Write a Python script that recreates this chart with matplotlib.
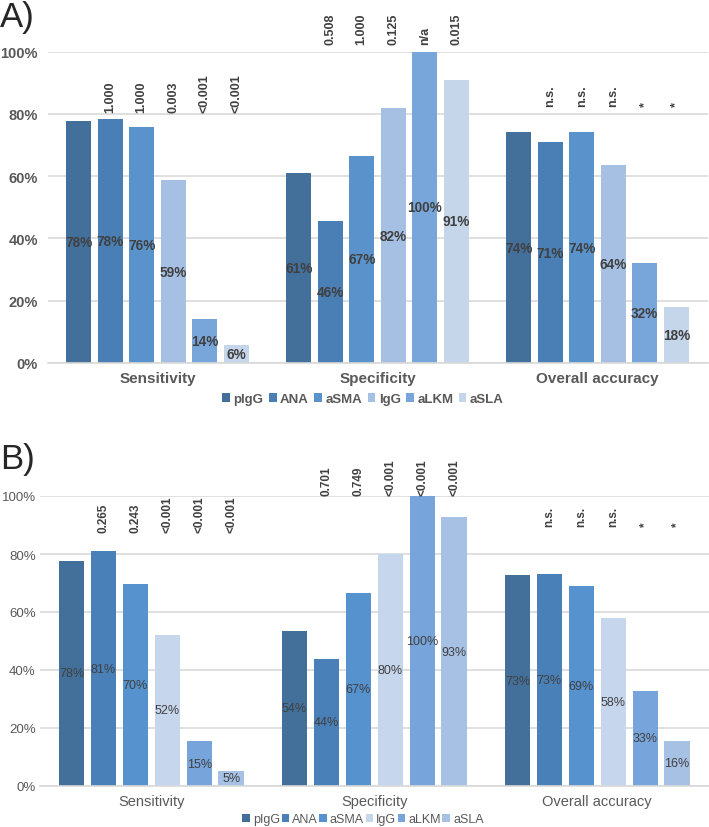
import matplotlib
matplotlib.use('Agg')
import matplotlib.pyplot as plt
import numpy as np

groups = ['Sensitivity', 'Specificity', 'Overall accuracy']
markers = ['pIgG', 'ANA', 'aSMA', 'IgG', 'aLKM', 'aSLA']

# panel A values (%), per group, marker order as above
a_sens = [77.8, 78.2, 75.8, 58.7, 14.0, 5.9]
a_spec = [60.9, 45.6, 66.6, 81.8, 100.0, 90.9]
a_acc = [74.0, 70.8, 74.0, 63.7, 32.1, 17.9]
a_p_sens = ['', '1.000', '1.000', '0.003', '<0.001', '<0.001']
a_p_spec = ['', '0.508', '1.000', '0.125', 'n/a', '0.015']
a_p_acc = ['', 'n.s.', 'n.s.', 'n.s.', '*', '*']

# panel B values (%)
b_sens = [77.7, 81.0, 69.6, 52.1, 15.4, 5.3]
b_spec = [53.6, 43.8, 66.6, 80.0, 100.0, 92.7]
b_acc = [72.6, 73.2, 68.9, 57.8, 32.9, 15.6]
b_p_sens = ['', '0.265', '0.243', '<0.001', '<0.001', '<0.001']
b_p_spec = ['', '0.701', '0.749', '<0.001', '<0.001', '<0.001']
b_p_acc = ['', 'n.s.', 'n.s.', 'n.s.', '*', '*']

colors_a = ['#43709B', '#4A7FB6', '#5A93CC', '#A6C0E3', '#79A6DA', '#C5D5EA']
colors_b = ['#43709B', '#4A80B8', '#5592CE', '#C6D6EC', '#77A5DB', '#A7C1E5']

fig = plt.figure(figsize=(7.09, 8.28), dpi=100)
axA = fig.add_axes([47.5 / 709, 1 - 364 / 828, 660 / 709, 311.5 / 828])
axB = fig.add_axes([39.75 / 709, 1 - 787 / 828, 669 / 709, 290 / 828])

grid_c = '#D9D9D9'
txt_c = '#595959'
lab_c = '#404040'
font = ['Liberation Sans', 'DejaVu Sans']


def draw_panel(ax, vals, pvals, p_heights, colors, bold, tick_fs, cat_fs, lab_fs, p_fs,
               leg_fs, leg_y, colsp, pad):
    wt = 'bold' if bold else 'normal'
    step = 0.1432
    width = 0.113
    x = np.arange(len(groups))
    for i, m in enumerate(markers):
        h = [vals[g][i] for g in range(len(groups))]
        pos = x + (i - 2.5) * step
        ax.bar(pos, h, width=width, color=colors[i], label=m, zorder=2)
        for g in range(len(groups)):
            ax.text(pos[g], h[g] / 2, '%.0f%%' % h[g], ha='center', va='center',
                    fontsize=lab_fs, color=lab_c, fontweight=wt, family=font, zorder=3)
            p = pvals[g][i]
            if p:
                ax.text(pos[g], p_heights[g], p, rotation=90, ha='center', va='bottom',
                        fontsize=p_fs, color=lab_c, fontweight='bold', family=font, clip_on=False)
    ax.set_xlim(-0.5, 2.5)
    ax.set_ylim(0, 100)
    ax.set_yticks([0, 20, 40, 60, 80, 100])
    ax.set_yticklabels(['0%', '20%', '40%', '60%', '80%', '100%'], fontsize=tick_fs,
                       color=txt_c, fontweight=wt, family=font)
    ax.set_xticks(x)
    ax.set_xticklabels(groups, fontsize=cat_fs, color=txt_c, fontweight=wt, family=font)
    ax.tick_params(axis='x', length=0, pad=6)
    ax.tick_params(axis='y', length=0, pad=pad)
    ax.yaxis.grid(True, color=grid_c, linewidth=1.2, zorder=0)
    ax.set_axisbelow(True)
    for s in ['top', 'right', 'left']:
        ax.spines[s].set_visible(False)
    ax.spines['bottom'].set_color(grid_c)
    ax.spines['bottom'].set_linewidth(1.2)
    leg = ax.legend(ncol=6, loc='center', bbox_to_anchor=(363 / 709, leg_y),
                    bbox_transform=fig.transFigure, frameon=False,
                    handlelength=0.6, handleheight=0.6, handletextpad=0.25,
                    columnspacing=colsp, prop={'family': font, 'size': leg_fs, 'weight': wt})
    for t in leg.get_texts():
        t.set_color(txt_c)


draw_panel(axA, [a_sens, a_spec, a_acc], [a_p_sens, a_p_spec, a_p_acc], [80.5, 102.4, 82.5],
           colors_a, True, 10.5, 11, 9.8, 9, 9.5, 1 - 400 / 828, 0.4, 7)
draw_panel(axB, [b_sens, b_spec, b_acc], [b_p_sens, b_p_spec, b_p_acc], [87.6, 100.3, 89.6],
           colors_b, False, 9.5, 10.5, 9, 8.5, 9, 1 - 820 / 828, 0.12, 3)

fig.text(0.0, 1 - 18 / 828, 'A)', fontsize=25, family='Liberation Sans', color='#262626', va='center', ha='left')
fig.text(0.0, 1 - 460 / 828, 'B)', fontsize=25, family='Liberation Sans', color='#262626', va='center', ha='left')

fig.savefig('out.png', dpi=100)
